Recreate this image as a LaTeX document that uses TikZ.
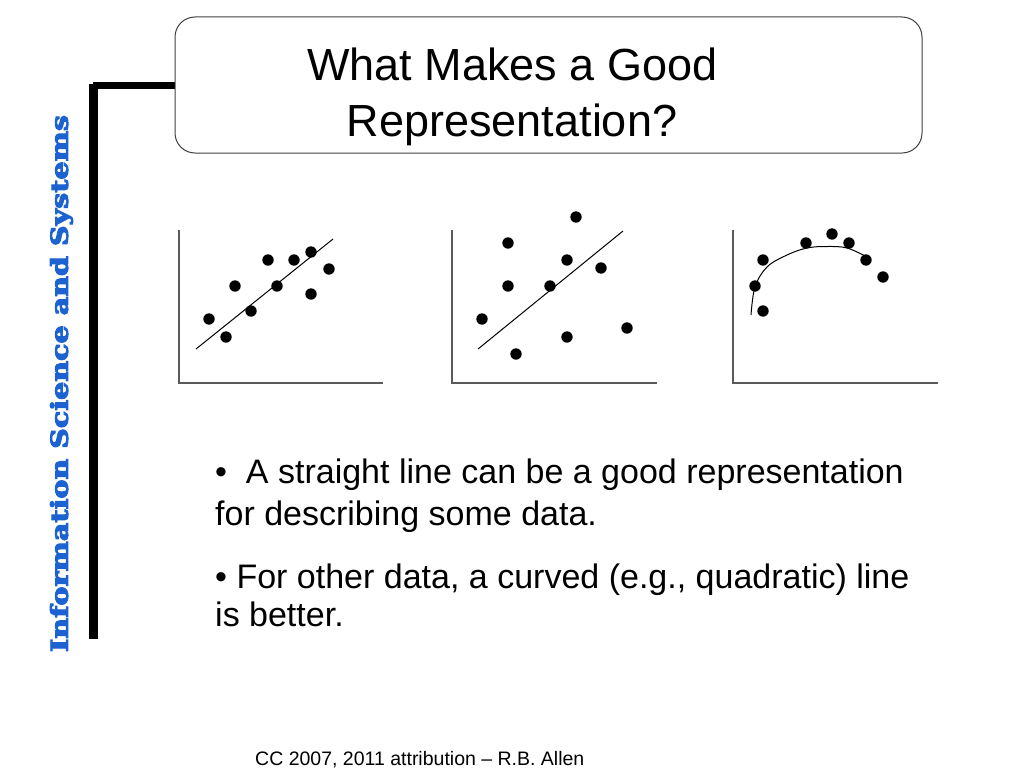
\documentclass[tikz,border=0pt]{standalone}
\usepackage{fontspec}
\setmainfont{Liberation Sans}
\newfontfamily\sidefont{DejaVu Serif}[BoldFeatures={FakeBold=4}]
\usepackage{graphicx}
\definecolor{sideblue}{RGB}{28,98,208}
\definecolor{axisgray}{RGB}{90,90,90}
\begin{document}
\begin{tikzpicture}[x=1pt,y=-1pt,
  dot/.style={fill=black},
  axisline/.style={draw=axisgray,line width=1.3pt},
  fitline/.style={draw=black,line width=1pt},
  bodytext/.style={font=\fontsize{34}{40}\selectfont,anchor=base west,inner sep=0pt},
  titletext/.style={font=\fontsize{45}{52}\selectfont,anchor=base,inner sep=0pt}]
\useasboundingbox[fill=white] (0,0) rectangle (1024,768);

% sidebar
\fill[black] (93,82) rectangle (175,89);
\fill[black] (89,84) rectangle (98,639);
\node[rotate=90,inner sep=0pt,text=sideblue] (side) at (61.5,383.5)
  {\resizebox*{537pt}{23pt}{\sidefont\bfseries Information Science and Systems}};

% title box
\draw[draw=black!75,line width=1pt,rounded corners=20pt] (175,17) rectangle (922,153);
\node[titletext] (t1) at (512.5,81) {What Makes a Good};
\node[titletext] (t2) at (512,136) {Representation?};

% plot 1
\draw[axisline] (179,230) -- (179,383) -- (383,383);
\draw[fitline] (196,349) -- (333,239);
\foreach \p in {(209,319),(226,337),(235,286),(251,311),(268,260),(277,286),(294,260),(311,252),(311,294),(329,269)}
  \fill[dot] \p circle (5.7pt);

% plot 2
\draw[axisline] (452,230) -- (452,383) -- (657,383);
\draw[fitline] (478,349) -- (623,231);
\foreach \p in {(576,217),(508,243),(567,260),(601,268),(508,286),(550,286),(482,319),(567,337),(627,328),(516,354)}
  \fill[dot] \p circle (5.7pt);

% plot 3
\draw[axisline] (733,230) -- (733,383) -- (938,383);
\draw[fitline] plot[smooth,tension=0.6] coordinates {(751,315) (755,287) (767,267) (787,255) (807,248) (827,246.5) (847,248) (867,257)};
\foreach \p in {(832,234),(806,243),(849,243),(763,260),(866,260),(883,277),(755,286),(763,311)}
  \fill[dot] \p circle (5.7pt);

% bullet text
\node[bodytext] (b1) at (215,483) {\textbullet\ \ A straight line can be a good representation};
\node[bodytext] (b2) at (215,525) {for describing some data.};
\node[bodytext] (b3) at (215,588) {\textbullet\ For other data, a curved (e.g., quadratic) line};
\node[bodytext] (b4) at (215,626) {is better.};

% footer
\node[font=\fontsize{19.5}{23}\selectfont,anchor=base west,inner sep=0pt] (foot) at (255,765)
  {CC 2007, 2011 attribution -- R.B. Allen};
\end{tikzpicture}
\end{document}
